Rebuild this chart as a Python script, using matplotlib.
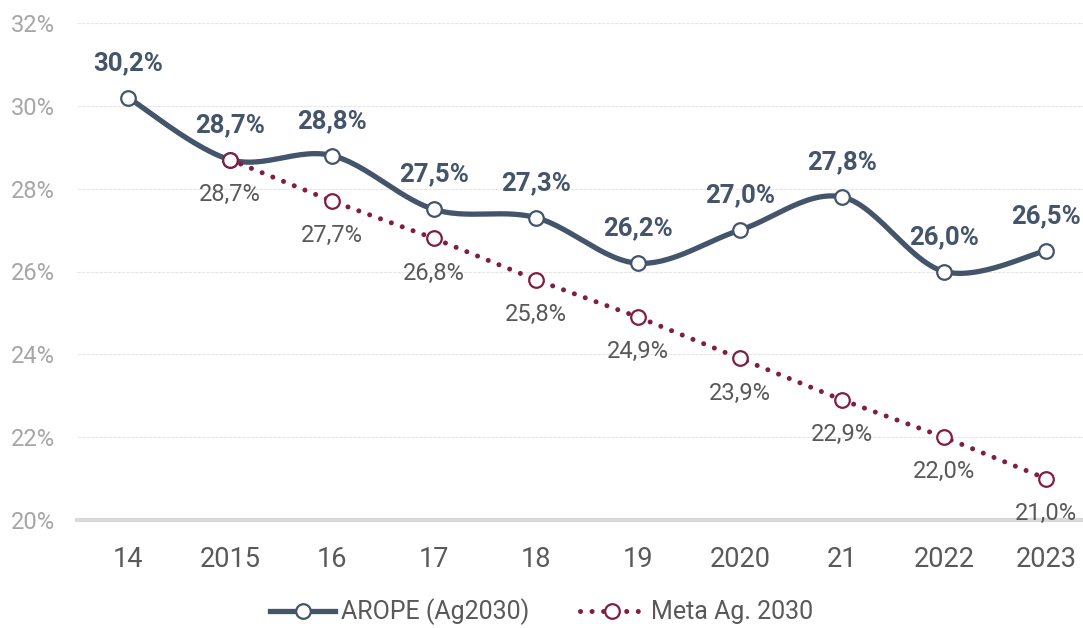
import numpy as np
import matplotlib
matplotlib.use("Agg")
import matplotlib.pyplot as plt
from matplotlib.lines import Line2D

YEARS = ["14", "2015", "16", "17", "18", "19", "2020", "21", "2022", "2023"]
AROPE = [30.2, 28.7, 28.8, 27.5, 27.3, 26.2, 27.0, 27.8, 26.0, 26.5]
META = [None, 28.7, 27.7, 26.8, 25.8, 24.9, 23.9, 22.9, 22.0, 21.0]
Y_TICKS = [20, 22, 24, 26, 28, 30, 32]

AROPE_COLOR = "#44546A"
META_COLOR = "#7F1D45"
plt.rcParams["font.family"] = ["Roboto", "DejaVu Sans"]


def fmt(v):
    return f"{v:.1f}".replace(".", ",") + "%"


def smooth(xs, ys, n=30):
    # Excel-like smoothed line: bezier segments with catmull-rom control points
    xs, ys = np.asarray(xs, float), np.asarray(ys, float)
    px, py = [], []
    for i in range(len(xs) - 1):
        i0, i3 = max(i - 1, 0), min(i + 2, len(xs) - 1)
        p0, p1, p2, p3 = (np.array([xs[j], ys[j]]) for j in (i0, i, i + 1, i3))
        c1 = p1 + (p2 - p0) / 6
        c2 = p2 - (p3 - p1) / 6
        t = np.linspace(0, 1, n)[:, None]
        b = (1 - t) ** 3 * p1 + 3 * (1 - t) ** 2 * t * c1 + 3 * (1 - t) * t ** 2 * c2 + t ** 3 * p2
        px.extend(b[:, 0])
        py.extend(b[:, 1])
    return np.array(px), np.array(py)


fig = plt.figure(figsize=(10.83, 6.28), dpi=100)
ax = fig.add_axes([77 / 1083, 108 / 628, 1 - 77 / 1083, (520 - 23) / 628])
x = np.arange(len(YEARS))

# scale factor so the smoothing works in screen-like units
ysc = 41.4 / 102
sx, sy = smooth(x, np.array(AROPE) * ysc)
ax.plot(sx, sy / ysc, color=AROPE_COLOR, lw=3.8, solid_capstyle="round", zorder=3)
ax.plot(x, AROPE, ls="none", marker="o", ms=10.5, mfc="white", mec=AROPE_COLOR, mew=1.6, zorder=5)

mx = [i for i, v in enumerate(META) if v is not None]
mv = [v for v in META if v is not None]
ax.plot(mx, mv, color=META_COLOR, lw=3.6, ls=(0, (0.01, 2.3)), dash_capstyle="round", zorder=4)
ax.plot(mx, mv, ls="none", marker="o", ms=10.5, mfc="white", mec=META_COLOR, mew=1.6, zorder=6)

for i, v in enumerate(AROPE):
    ax.annotate(fmt(v), (i, v), xytext=(0, 25), textcoords="offset points", ha="center", va="center",
                fontsize=18.5, fontweight="bold", color=AROPE_COLOR)
for i, v in zip(mx, mv):
    ax.annotate(fmt(v), (i, v), xytext=(0, -25), textcoords="offset points", ha="center", va="center",
                fontsize=17, color="#595959")

ax.set_ylim(20, 32)
ax.set_xlim(-0.5, (1083 - 128) / 102)
ax.set_yticks(Y_TICKS)
ax.set_yticklabels([f"{t}%" for t in Y_TICKS])
ax.set_xticks(x)
ax.set_xticklabels(YEARS)
ax.grid(axis="y", color="#E6E6E6", lw=0.8, ls=(0, (3, 1)))
ax.set_axisbelow(True)
for s in ["top", "right", "left"]:
    ax.spines[s].set_visible(False)
ax.spines["bottom"].set_color("#D9D9D9")
ax.spines["bottom"].set_linewidth(3)
ax.spines["bottom"].set_zorder(2)
ax.tick_params(axis="y", length=0, pad=16, labelsize=17, labelcolor="#A6A6A6")
ax.tick_params(axis="x", length=0, pad=19, labelsize=19.5, labelcolor="#595959")

handles = [
    Line2D([], [], color=AROPE_COLOR, lw=3.8, marker="o", ms=10.5, mfc="white", mec=AROPE_COLOR, mew=1.6),
    Line2D([], [], color=META_COLOR, lw=3.6, ls=(0, (0.01, 2.3)), dash_capstyle="round", marker="o", ms=10.5,
           mfc="white", mec=META_COLOR, mew=1.6),
]
fig.legend(handles, ["AROPE (Ag2030)", "Meta Ag. 2030"], loc="center", bbox_to_anchor=(0.5, 1 - 612 / 628),
           ncol=2, frameon=False, fontsize=18, labelcolor="#595959", handlelength=2.6, handletextpad=0.25,
           columnspacing=2.0)

fig.savefig("out.png", dpi=100)
